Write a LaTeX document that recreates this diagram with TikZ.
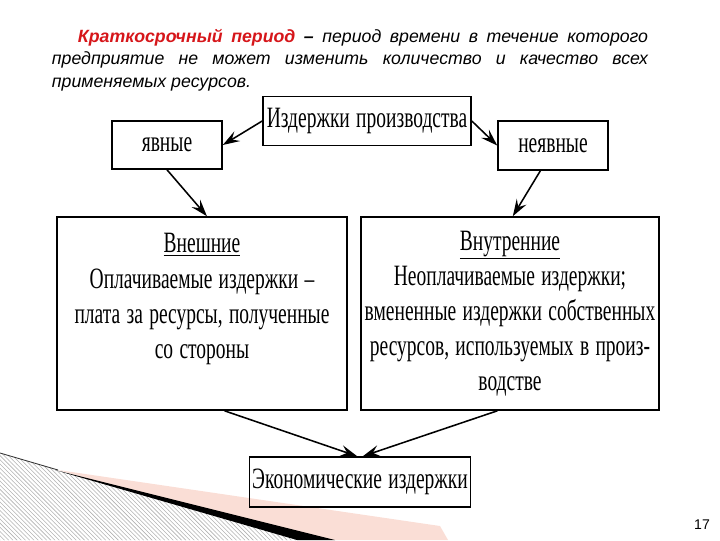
\documentclass[tikz,border=0pt]{standalone}
\usepackage{fontspec}
\usepackage{tikz}
\usetikzlibrary{arrows.meta,patterns}
\newfontfamily\headfont{Liberation Sans}
\newfontfamily\boxfont[FakeStretch=0.66,WordSpace=1.3]{Liberation Serif}
\definecolor{headred}{RGB}{214,22,26}
\definecolor{wedgepink}{RGB}{250,222,214}
\tikzstyle{box}=[rectangle, draw, line width=1.1pt, align=center, inner sep=2pt, font=\boxfont\fontsize{21pt}{25pt}\selectfont]
\tikzstyle{to}=[-{Stealth[length=12pt,width=8pt,inset=4.5pt]}, line width=1.1pt]

\begin{document}
\begin{tikzpicture}[x=0.025cm, y=-0.025cm]

\useasboundingbox (0,0) rectangle (720,540);

\tikzstyle{bigbox}=[box, minimum height=4.825cm]

\fill [pattern=north west lines, pattern color=gray!60] (0,453) -- (58,470) -- (297,540) -- (0,540) -- cycle;
\fill [wedgepink] (58,470) -- (440,526) -- (448,540) -- (300,540) -- cycle;
\fill [black] (55,470) -- (335,540) -- (297,540) -- cycle;
\draw [black!80, line width=0.6pt] (0,453) -- (58,470);

\node (def) [anchor=north west, text width=14.9cm, align=justify, font=\headfont\itshape\fontsize{12.6pt}{16pt}\selectfont] at (47,24)
     {\hspace*{0.65cm}{\color{headred}\bfseries Краткосрочный период} {\bfseries –} период времени в течение  которого\linebreak
      предприятие не может изменить количество и качество  всех\linebreak
      применяемых ресурсов.};

\node (costs) [box, minimum width=5.2cm, minimum height=1.225cm] at (367,121) {Издержки производства};

\node (explicit) [box, minimum width=2.75cm, minimum height=1.2cm] at (167,145) {явные};

\node (implicit) [box, minimum width=2.75cm, minimum height=1.225cm] at (553,145.5) {неявные};

\node (external) [bigbox, minimum width=7.25cm] at (202,313.5) {\underline{Внешние}\\
       Оплачиваемые издержки –\\
       плата за ресурсы, полученные\\
       со стороны\\ \mbox{}};

\node (internal) [bigbox, minimum width=7.45cm] at (510,313.5) {\underline{Внутренние}\\
       Неоплачиваемые издержки;\\
       вмененные издержки собственных\\
       ресурсов, используемых в произ-\\
       водстве};

\node (economic) [box, minimum width=5.5cm, minimum height=1.25cm] at (360,482) {Экономические издержки};

\node (page) [font=\headfont\fontsize{10pt}{12pt}\selectfont] at (702,525) {17};

\draw [to] (costs.west) -- (explicit.east);
\draw [to] (costs.east) -- (implicit.west);
\draw [to] (explicit.south) -- ([xshift=3.5pt]external.north);
\draw [to] ([xshift=-9pt]implicit.south) -- ([xshift=2pt]internal.north);
\draw [to] ([xshift=16pt]external.south) -- ([xshift=-2pt]economic.north);
\draw [to] ([xshift=-9pt]internal.south) -- ([xshift=2pt]economic.north);

\end{tikzpicture}
\end{document}
